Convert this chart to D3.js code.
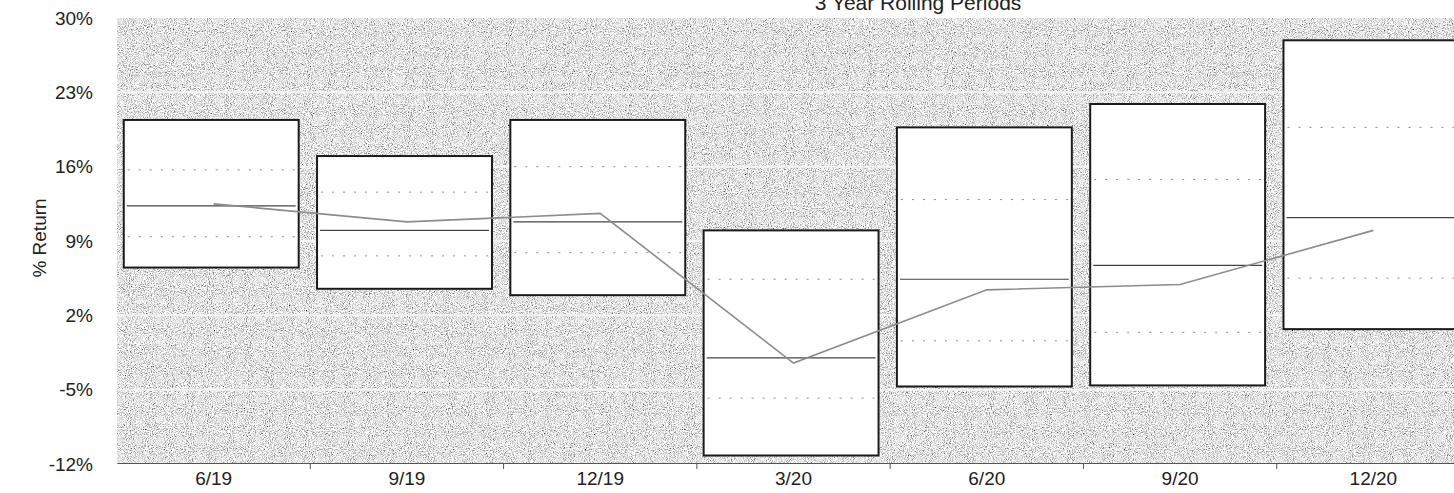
<!DOCTYPE html>
<html>
<head>
<meta charset="utf-8">
<script src="https://cdn.jsdelivr.net/npm/d3@7"></script>
<style>
  body { margin: 0; background: #fff; overflow: hidden; }
  svg { display: block; font-family: "Liberation Sans", Arial, sans-serif; }
</style>
</head>
<body>
<svg id="chart" width="1454" height="493"></svg>
<script>
// rolling period labels
const periods = ["6/19", "9/19", "12/19", "3/20", "6/20", "9/20", "12/20"];
// universe range per period (% return)
const high = [20.4, 17.0, 20.4, 10.0, 19.7, 21.9, 27.9];
const upperQ = [15.7, 13.6, 16.0, 5.4, 12.9, 14.8, 19.7];
const median = [12.3, 10.0, 10.8, -2.0, 5.4, 6.7, 11.2];
const lowerQ = [9.4, 7.6, 7.9, -5.8, -0.4, 0.4, 5.5];
const low = [6.5, 4.5, 3.9, -11.2, -4.7, -4.6, 0.7];
// the fund's own 3 year return
const fund = [12.5, 10.8, 11.6, -2.5, 4.4, 4.9, 10.0];
const yTicks = [-12, -5, 2, 9, 16, 23, 30];

const svg = d3.select("#chart");
const margin = { top: 18, left: 117, bottom: 464, right: 1470 };

let x = d3.scaleBand().domain(periods).range([margin.left, margin.right]);
let y = d3.scaleLinear().domain([-12, 30]).range([margin.bottom, margin.top]);

// stipple texture for the plot background
let defs = svg.append("defs");
let f = defs.append("filter").attr("id", "grain")
  .attr("x", 0).attr("y", 0).attr("width", 1).attr("height", 1);
f.append("feTurbulence").attr("type", "fractalNoise")
  .attr("baseFrequency", 0.95).attr("numOctaves", 2).attr("seed", 4);
f.append("feColorMatrix").attr("type", "matrix")
  .attr("values", "2.0 0 0 0 -0.22  2.0 0 0 0 -0.22  2.0 0 0 0 -0.22  0 0 0 0 1");

svg.append("rect")
  .attr("x", margin.left).attr("y", margin.top)
  .attr("width", margin.right - margin.left).attr("height", margin.bottom - margin.top)
  .attr("fill", "#c8c8c8")
  .attr("filter", "url(#grain)");

// white gridlines
svg.append("g").selectAll("line")
  .data(yTicks.filter(d => d > -12 && d < 30))
  .enter().append("line")
  .attr("x1", margin.left).attr("x2", margin.right)
  .attr("y1", d => y(d)).attr("y2", d => y(d))
  .attr("stroke", "#f4f4f4").attr("stroke-width", 2);

// y axis labels
svg.append("g").selectAll("text")
  .data(yTicks).enter().append("text")
  .attr("x", 93).attr("y", d => y(d))
  .attr("dy", "0.35em")
  .attr("text-anchor", "end")
  .style("font-size", "19px").attr("fill", "#222")
  .text(d => d + "%");

svg.append("text")
  .attr("transform", "translate(46,238) rotate(-90)")
  .attr("text-anchor", "middle")
  .style("font-size", "19px").attr("fill", "#222")
  .text("% Return");

// title (top is cut off in the original)
svg.append("text")
  .attr("x", 918).attr("y", 10)
  .attr("text-anchor", "middle")
  .style("font-size", "21px").attr("fill", "#222")
  .text("3 Year Rolling Periods");

// x axis
svg.append("g")
  .attr("transform", `translate(0,${margin.bottom - 1})`)
  .call(d3.axisBottom(x).tickSize(0).tickPadding(9))
  .call(g => g.select(".domain").attr("stroke", "#555"))
  .call(g => g.selectAll("text").style("font-size", "19px").attr("fill", "#222")
    .attr("font-family", "Liberation Sans, Arial, sans-serif"));

// ticks between periods
svg.append("g").selectAll("line")
  .data(periods.slice(1)).enter().append("line")
  .attr("x1", d => x(d)).attr("x2", d => x(d))
  .attr("y1", margin.bottom - 1).attr("y2", margin.bottom + 5)
  .attr("stroke", "#555");

let bw = x.bandwidth();
let boxX = d => x(d) + bw * 0.035;
let boxW = bw * 0.905;

let boxes = svg.append("g").selectAll("g")
  .data(periods).enter().append("g");

boxes.append("rect")
  .attr("x", d => boxX(d))
  .attr("y", (d, i) => y(high[i]))
  .attr("width", boxW)
  .attr("height", (d, i) => y(low[i]) - y(high[i]))
  .attr("fill", "#fff")
  .attr("stroke", "#1a1a1a").attr("stroke-width", 2);

// quartiles (dotted)
[upperQ, lowerQ].forEach(arr => {
  boxes.append("line")
    .attr("x1", d => boxX(d) + 4).attr("x2", d => boxX(d) + boxW - 4)
    .attr("y1", (d, i) => y(arr[i])).attr("y2", (d, i) => y(arr[i]))
    .attr("stroke", "#8a8a8a").attr("stroke-width", 1)
    .attr("stroke-dasharray", "2,9");
});

// median (solid)
boxes.append("line")
  .attr("x1", d => boxX(d) + 3).attr("x2", d => boxX(d) + boxW - 3)
  .attr("y1", (d, i) => y(median[i])).attr("y2", (d, i) => y(median[i]))
  .attr("stroke", "#444").attr("stroke-width", 1.2);

// fund line
let line = d3.line()
  .x((d, i) => x(periods[i]) + bw / 2)
  .y(d => y(d));

svg.append("path")
  .datum(fund)
  .attr("d", line)
  .attr("fill", "none")
  .attr("stroke", "#8c8c8c")
  .attr("stroke-width", 1.6);
</script>
</body>
</html>
